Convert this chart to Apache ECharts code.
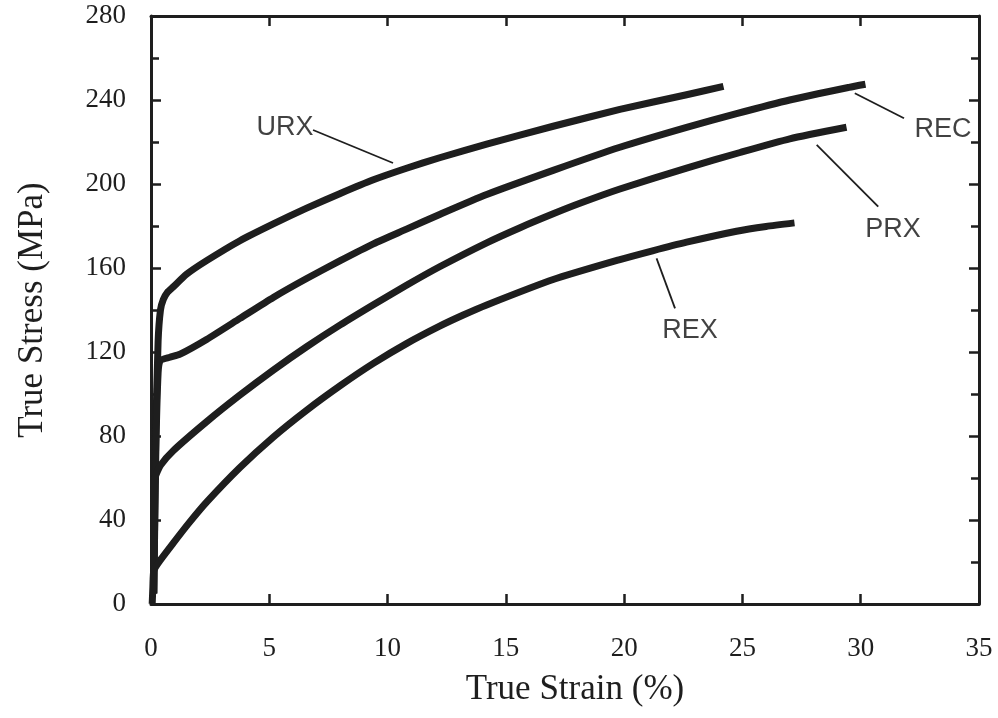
<!DOCTYPE html>
<html>
<head>
<meta charset="utf-8">
<script src="https://cdn.jsdelivr.net/npm/echarts@6/dist/echarts.min.js"></script>
<style>
  html, body { margin: 0; padding: 0; background: #ffffff; }
  #chart { width: 998px; height: 718px; }
</style>
</head>
<body>
<div id="chart"></div>
<script>
// True stress–strain curves, [strain %, stress MPa]
const urx = [[0.12,5],[0.2,80],[0.3,125],[0.4,140],[0.52,145],[0.7,148.5],[0.94,151],[1.5,157],[2.35,163.5],[3.76,173],[5.17,181],[6.58,188.5],[8.0,195.5],[9.4,202],[10.8,207.5],[12.2,212.5],[14.19,219],[17.0,227.5],[19.82,235.5],[22.64,242.5],[24.2,246.5]];
const rec = [[0.12,5],[0.2,70],[0.3,110],[0.4,116],[0.8,117.5],[1.23,119],[2.35,126],[3.76,136],[5.17,146],[6.58,155],[8.0,163.5],[9.4,171.5],[10.8,178.5],[12.2,185.5],[14.19,195],[17.0,206.5],[19.82,217.5],[22.64,227],[24.75,233.5],[27.0,240],[29.5,246],[30.2,247.5]];
const prx = [[0.1,5],[0.13,45],[0.17,60],[0.4,66],[0.94,73],[2.35,86.8],[3.76,99.5],[5.17,111.4],[6.58,122.5],[8.0,132.9],[9.4,142.5],[10.8,151.8],[12.2,160.6],[14.19,172],[15.6,179.2],[17.0,185.8],[18.13,190.8],[19.82,197.6],[22.64,207.6],[24.9,215],[27.0,221.5],[29.4,227]];
const rex = [[0.05,0],[0.08,8],[0.12,16],[0.4,21],[0.94,29],[1.6,38.5],[2.35,48.5],[3.76,65],[5.17,79.5],[6.58,92.3],[8.0,104],[9.4,114.6],[10.8,124],[12.2,132.3],[13.2,137.6],[14.19,142.4],[17.0,154.5],[19.82,164],[21.2,168.2],[22.64,172.3],[24.75,177.5],[26.0,179.8],[27.2,181.5]];

// Curve labels and their leader lines (data coordinates)
const labelNames = ['URX', 'REC', 'PRX', 'REX'];
const labelAt = [[5.66,226.7],[33.48,225.7],[31.36,178.1],[22.78,130]];
const leaders = [
  [[6.85,225.7],[10.23,210.0]],
  [[29.75,243.2],[31.83,231.3]],
  [[28.14,218.6],[30.74,189.2]],
  [[21.37,164.6],[22.15,140.8]]
];

// Axis ranges and ticks
const strainTicks = [0, 5, 10, 15, 20, 25, 30, 35];
const stressTicks = [0, 40, 80, 120, 160, 200, 240, 280];

const INK = '#1e1e1e';
const serif = '"Liberation Serif", "Times New Roman", serif';
const sans = '"Liberation Sans", Arial, sans-serif';

const axisLine = { show: true, onZero: false, lineStyle: { color: INK, width: 3 } };
const tick = { show: true, inside: true, length: 10, lineStyle: { color: INK, width: 2.5 } };
const minor = { show: true, splitNumber: 2, length: 8, lineStyle: { color: INK, width: 2.5 } };

const curveSeries = [urx, rec, prx, rex].map((d, i) => ({
  type: 'line',
  name: labelNames[i],
  data: d,
  showSymbol: false,
  smooth: 0.2,
  silent: true,
  lineStyle: { color: INK, width: 7, cap: 'butt', join: 'round' },
  z: 3
}));

const leaderSeries = leaders.map(seg => ({
  type: 'line',
  data: seg,
  showSymbol: false,
  silent: true,
  lineStyle: { color: INK, width: 1.8 },
  z: 4
}));

const labelSeries = {
  type: 'scatter',
  symbolSize: 0,
  silent: true,
  data: labelAt.map((p, i) => ({ value: p, name: labelNames[i] })),
  label: {
    show: true,
    position: 'inside',
    formatter: p => p.name,
    fontFamily: sans,
    fontSize: 27,
    color: '#111111',
    textBorderWidth: 0
  },
  z: 5
};

const chart = echarts.init(document.getElementById('chart'), null, { renderer: 'canvas' });
chart.setOption({
  backgroundColor: '#ffffff',
  animation: false,
  grid: { left: 151, right: 19, top: 16, bottom: 114 },
  xAxis: [
    {
      type: 'value',
      position: 'bottom',
      min: strainTicks[0],
      max: strainTicks[strainTicks.length - 1],
      interval: strainTicks[1] - strainTicks[0],
      axisLine: axisLine,
      axisTick: tick,
      splitLine: { show: false },
      axisLabel: { margin: 31, fontFamily: serif, fontSize: 27, color: INK },
      name: 'True Strain (%)',
      nameLocation: 'middle',
      nameGap: 68,
      nameTextStyle: { fontFamily: serif, fontSize: 35, color: INK, padding: [0, 0, 0, 20] }
    },
    {
      type: 'value',
      position: 'top',
      min: strainTicks[0],
      max: strainTicks[strainTicks.length - 1],
      interval: strainTicks[1] - strainTicks[0],
      axisLine: axisLine,
      axisTick: tick,
      axisLabel: { show: false },
      splitLine: { show: false }
    }
  ],
  yAxis: [
    {
      type: 'value',
      position: 'left',
      min: stressTicks[0],
      max: stressTicks[stressTicks.length - 1],
      interval: stressTicks[1] - stressTicks[0],
      axisLine: axisLine,
      axisTick: tick,
      minorTick: minor,
      splitLine: { show: false },
      minorSplitLine: { show: false },
      axisLabel: { margin: 25, fontFamily: serif, fontSize: 27, color: INK },
      name: 'True Stress (MPa)',
      nameLocation: 'middle',
      nameGap: 101,
      nameTextStyle: { fontFamily: serif, fontSize: 35, color: INK }
    },
    {
      type: 'value',
      position: 'right',
      min: stressTicks[0],
      max: stressTicks[stressTicks.length - 1],
      interval: stressTicks[1] - stressTicks[0],
      axisLine: axisLine,
      axisTick: tick,
      minorTick: minor,
      splitLine: { show: false },
      minorSplitLine: { show: false },
      axisLabel: { show: false }
    }
  ],
  series: [...curveSeries, ...leaderSeries, labelSeries]
});
</script>
</body>
</html>
